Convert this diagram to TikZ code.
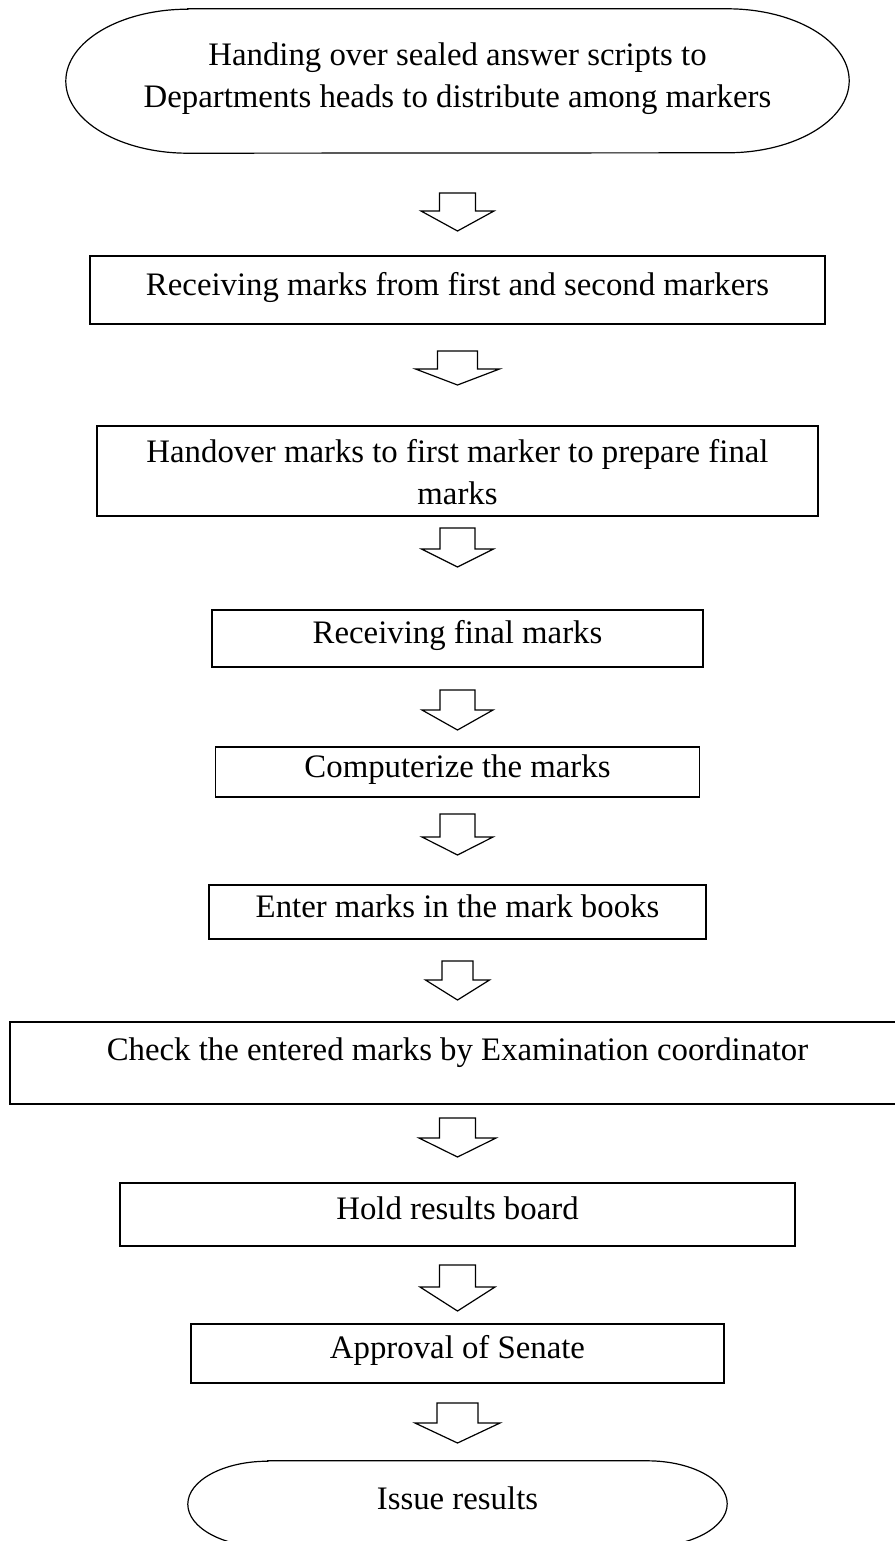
\documentclass[tikz,border=0pt]{standalone}
\usepackage{fontspec}
\setmainfont{Liberation Serif}
\usepackage{tikz}

\tikzset{
  stepbox/.style={draw, line width=1.2pt, inner sep=0pt, align=center, text height=21pt, text depth=11pt},
  termbox/.style={inner sep=0pt, align=center, text height=21pt, text depth=11pt},
  termline/.style={line width=1.2pt},
  blockarrow/.style={line width=1.2pt, line join=miter},
}

\begin{document}
\begin{tikzpicture}[x=1pt,y=1pt,font=\fontsize{32.8}{42}\selectfont]
\useasboundingbox (0,0) rectangle (894,-1541);
% start terminal (rounded ends drawn round the node)
\node[termbox,minimum width=783pt,minimum height=144pt,text height=65pt] (start) at (457.5,-81) {Handing over sealed answer scripts to\\Departments heads to distribute among markers};
\draw[termline] ([xshift=122pt]start.north west) -- ([xshift=-122pt]start.north east) arc[start angle=90,end angle=-90,x radius=122,y radius=72] -- ([xshift=122pt]start.south west) arc[start angle=270,end angle=90,x radius=122,y radius=72] -- cycle;
% process steps
\node[stepbox,minimum width=735pt,minimum height=68pt] (recv) at (457.5,-290) {Receiving marks from first and second markers};
\node[stepbox,minimum width=721pt,minimum height=90pt,text height=78pt] (handover) at (457.5,-471) {Handover marks to first marker to prepare final\\marks};
\node[stepbox,minimum width=491pt,minimum height=57pt] (final) at (457.5,-638.5) {Receiving final marks};
\node[stepbox,minimum width=484pt,minimum height=50pt] (comp) at (457.5,-772) {Computerize the marks};
\node[stepbox,minimum width=497pt,minimum height=54pt] (enter) at (457.5,-912) {Enter marks in the mark books};
\node[stepbox,minimum width=895pt,minimum height=82pt,text depth=27pt] (check) at (457.5,-1063) {Check the entered marks by Examination coordinator};
\node[stepbox,minimum width=675pt,minimum height=63pt] (board) at (457.5,-1214.5) {Hold results board};
\node[stepbox,minimum width=533pt,minimum height=59pt] (senate) at (457.5,-1353.5) {Approval of Senate};
% end terminal, cut off by the page edge
\node[termbox,minimum width=539pt,minimum height=86pt] (issue) at (457.5,-1504) {Issue results};
\draw[termline] ([xshift=80pt]issue.north west) -- ([xshift=-80pt]issue.north east) arc[start angle=90,end angle=-90,x radius=80,y radius=43] -- ([xshift=80pt]issue.south west) arc[start angle=270,end angle=90,x radius=80,y radius=43] -- cycle;
% hollow block arrows: shaft top / head base / tip / head half width / shaft half width
\foreach \t/\b/\p/\hw/\sw in {193/211/231/36.5/18, 351/369/385/42/20, 528/549/567/36/17.5, 690/710/730/35.5/17.5, 814/837/855/35.5/17.5, 961/980/1000/32/15.5, 1118/1138/1157/38.5/18, 1265/1287/1311/37.5/18, 1403/1423/1443/42.5/20.5} {
  \draw[blockarrow] ({457.5-\sw},-\t) -- ({457.5+\sw},-\t) -- ({457.5+\sw},-\b) -- ({457.5+\hw},-\b) -- (457.5,-\p) -- ({457.5-\hw},-\b) -- ({457.5-\sw},-\b) -- cycle;
}
\end{tikzpicture}
\end{document}
